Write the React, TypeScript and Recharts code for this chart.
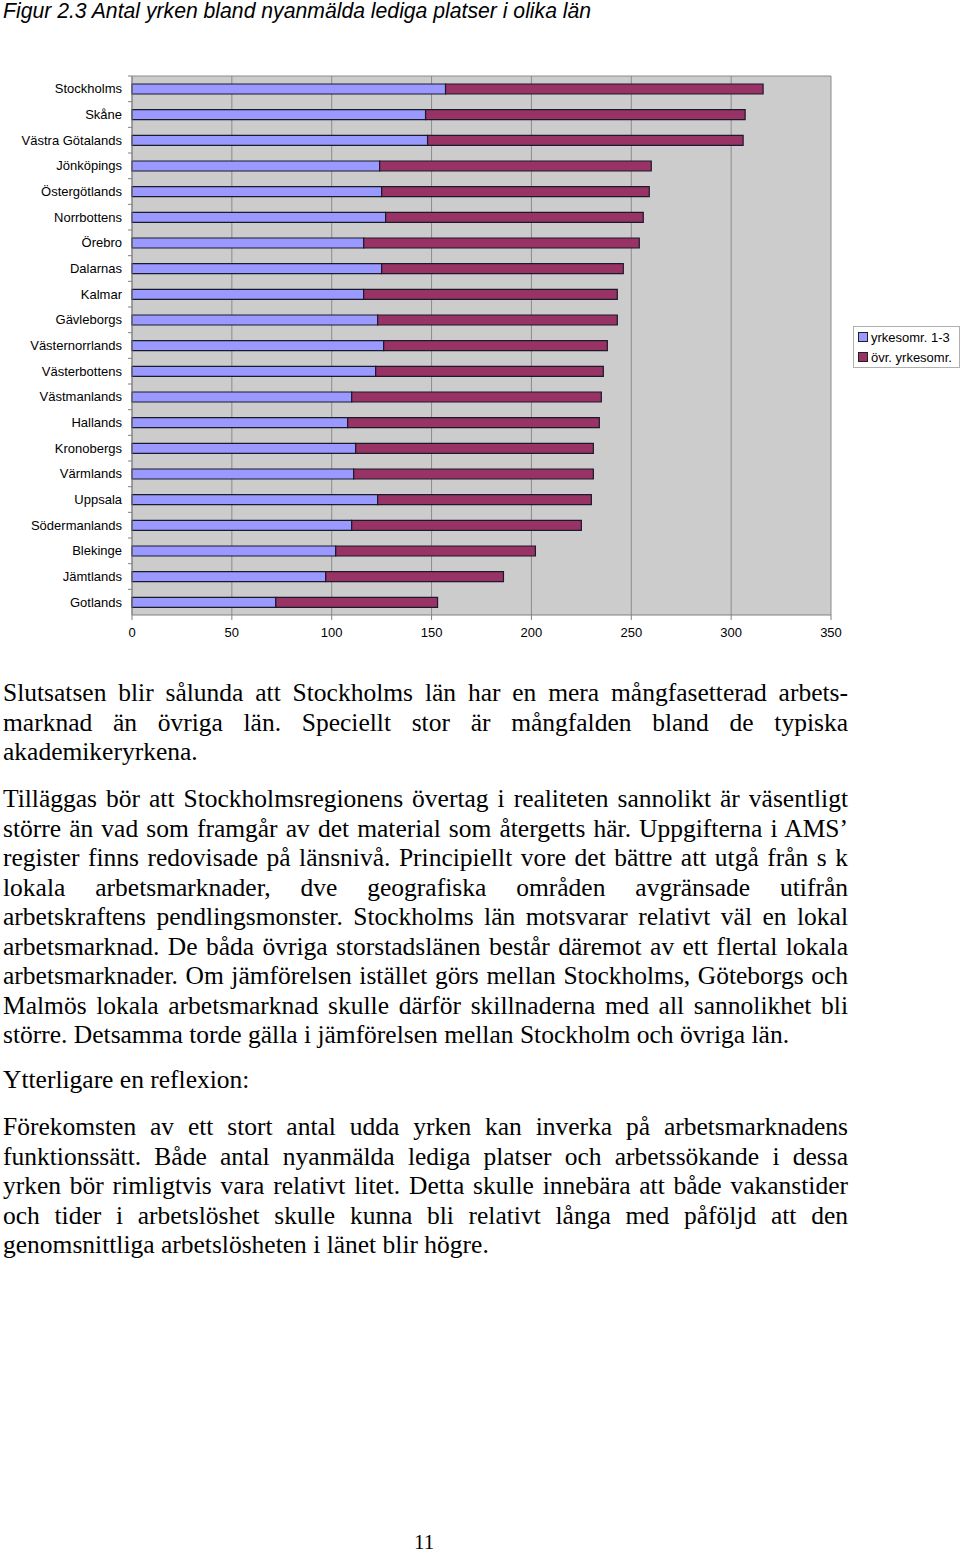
import React from "react";
import { BarChart, Bar, XAxis, YAxis, CartesianGrid } from "recharts";

const categories = [
  "Stockholms", "Skåne", "Västra Götalands", "Jönköpings", "Östergötlands", "Norrbottens",
  "Örebro", "Dalarnas", "Kalmar", "Gävleborgs", "Västernorrlands", "Västerbottens",
  "Västmanlands", "Hallands", "Kronobergs", "Värmlands", "Uppsala", "Södermanlands",
  "Blekinge", "Jämtlands", "Gotlands",
];
const yrkesomr13 = [157, 147, 148, 124, 125, 127, 116, 125, 116, 123, 126, 122, 110, 108, 112, 111, 123, 110, 102, 97, 72];
const ovrYrkesomr = [159, 160, 158, 136, 134, 129, 138, 121, 127, 120, 112, 114, 125, 126, 119, 120, 107, 115, 100, 89, 81];
const seriesNames = ["yrkesomr. 1-3", "övr. yrkesomr."];
const xTicks = [0, 50, 100, 150, 200, 250, 300, 350];

const titleText = "Figur 2.3 Antal yrken bland nyanmälda lediga platser i olika län";

const para1 = [
  "Slutsatsen blir sålunda att Stockholms län har en mera mångfasetterad arbets-",
  "marknad än övriga län. Speciellt stor är mångfalden bland de typiska",
  "akademikeryrkena.",
];
const para2 = [
  "Tilläggas bör att Stockholmsregionens övertag i realiteten sannolikt är väsentligt",
  "större än vad som framgår av det material som återgetts här. Uppgifterna i AMS’",
  "register finns redovisade på länsnivå. Principiellt vore det bättre att utgå från s k",
  "lokala arbetsmarknader, dve geografiska områden avgränsade utifrån",
  "arbetskraftens pendlingsmonster. Stockholms län motsvarar relativt väl en lokal",
  "arbetsmarknad. De båda övriga storstadslänen består däremot av ett flertal lokala",
  "arbetsmarknader. Om jämförelsen istället görs mellan Stockholms, Göteborgs och",
  "Malmös lokala arbetsmarknad skulle därför skillnaderna med all sannolikhet bli",
  "större. Detsamma torde gälla i jämförelsen mellan Stockholm och övriga län.",
];
const para3 = ["Ytterligare en reflexion:"];
const para4 = [
  "Förekomsten av ett stort antal udda yrken kan inverka på arbetsmarknadens",
  "funktionssätt. Både antal nyanmälda lediga platser och arbetssökande i dessa",
  "yrken bör rimligtvis vara relativt litet. Detta skulle innebära att både vakanstider",
  "och tider i arbetslöshet skulle kunna bli relativt långa med påföljd att den",
  "genomsnittliga arbetslösheten i länet blir högre.",
];
const pageNumber = "11";

const data = categories.map((name, i) => ({
  name,
  a: yrkesomr13[i],
  b: ovrYrkesomr[i],
}));

const SANS = "Arial, 'Liberation Sans', sans-serif";
const SERIF = "'Times New Roman', 'Liberation Serif', serif";
const BLUE = "#9999FF";
const MAROON = "#993366";

const CatTick = (props: any) => {
  const { x, y, payload } = props;
  const band = 539 / categories.length;
  return (
    <g>
      <line x1={x + 6} x2={x + 10} y1={y - band / 2} y2={y - band / 2} stroke="#808080" />
      <text x={x} y={y} dy={4.5} textAnchor="end" fontFamily={SANS} fontSize={13} fill="#000">
        {payload.value}
      </text>
    </g>
  );
};

const Para = ({ lines, top, lastLeft = true }: { lines: string[]; top: number; lastLeft?: boolean }) => (
  <div style={{ position: "absolute", left: 3, top, width: 845, fontFamily: SERIF, fontSize: 25.5, lineHeight: "29.5px", color: "#000" }}>
    {lines.map((l, i) => {
      const isLast = i === lines.length - 1 && lastLeft;
      return (
        <div
          key={i}
          style={{
            height: 29.5,
            whiteSpace: "nowrap",
            textAlign: isLast ? "left" : "justify",
            textAlignLast: isLast ? "left" : "justify",
          }}
        >
          {l}
        </div>
      );
    })}
  </div>
);

export default function App() {
  return (
    <div style={{ position: "absolute", left: 0, top: 0, width: 960, height: 1552, background: "#fff" }}>
      <div style={{ position: "absolute", left: 3, top: 0, fontFamily: SANS, fontStyle: "italic", fontSize: 21.2, lineHeight: "22px", whiteSpace: "nowrap", color: "#000" }}>
        {titleText}
      </div>
      <div style={{ position: "absolute", left: 0, top: 0 }}>
        <BarChart
          width={960}
          height={650}
          data={data}
          layout="vertical"
          margin={{ top: 76, right: 129, bottom: 5, left: 0 }}
          barSize={10}
        >
          <CartesianGrid
            fill="#CCCCCC"
            stroke="#8C8C8C"
            horizontal={true}
            vertical={true}
            horizontalCoordinatesGenerator={(p: any) => [p.offset.top]}
          />
          <XAxis
            type="number"
            domain={[0, 350]}
            ticks={xTicks}
            interval={0}
            axisLine={{ stroke: "#808080" }}
            tickLine={{ stroke: "#808080" }}
            tickSize={5}
            tickMargin={8}
            tick={{ fontFamily: SANS, fontSize: 13, fill: "#000" }}
            height={30}
          />
          <YAxis
            type="category"
            dataKey="name"
            width={132}
            interval={0}
            axisLine={{ stroke: "#808080" }}
            tickLine={false}
            tick={<CatTick />}
            tickMargin={4}
          />
          <Bar dataKey="a" name={seriesNames[0]} stackId="s" fill={BLUE} stroke="#1a1a2a" strokeWidth={1.2} isAnimationActive={false} />
          <Bar dataKey="b" name={seriesNames[1]} stackId="s" fill={MAROON} stroke="#1a1a2a" strokeWidth={1.2} isAnimationActive={false} />
        </BarChart>
      </div>
      <div style={{ position: "absolute", left: 853, top: 326, width: 105, height: 40, border: "1px solid #b0b0b0", background: "#fff", fontFamily: SANS, fontSize: 13, color: "#000" }}>
        {[BLUE, MAROON].map((c, i) => (
          <div key={i} style={{ display: "flex", alignItems: "center", height: 20, paddingLeft: 4 }}>
            <span style={{ display: "inline-block", width: 8, height: 8, background: c, border: "1px solid #222", marginRight: 3 }} />
            <span style={{ whiteSpace: "nowrap" }}>{seriesNames[i]}</span>
          </div>
        ))}
      </div>
      <Para lines={para1} top={678} />
      <Para lines={para2} top={784} />
      <Para lines={para3} top={1065} />
      <Para lines={para4} top={1112} />
      <div style={{ position: "absolute", left: 414, top: 1534, fontFamily: SERIF, fontSize: 21, lineHeight: "16px", color: "#000" }}>{pageNumber}</div>
    </div>
  );
}
